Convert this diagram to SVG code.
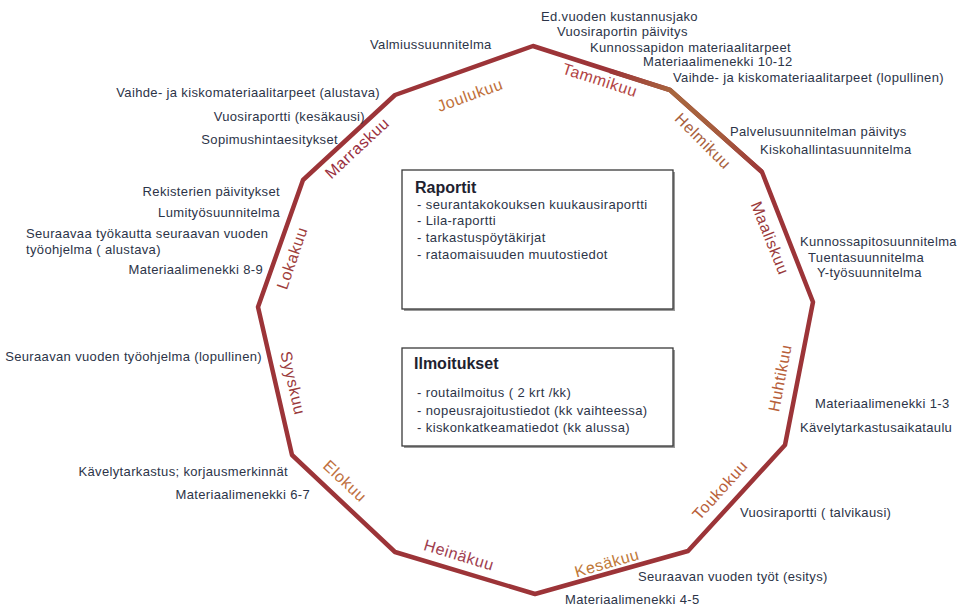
<svg xmlns="http://www.w3.org/2000/svg" width="960" height="610" viewBox="0 0 960 610">
<defs>
<linearGradient id="feb" gradientUnits="userSpaceOnUse" x1="610" y1="70" x2="765" y2="175">
<stop offset="0" stop-color="#9c3438"/>
<stop offset="0.35" stop-color="#a8673e"/>
<stop offset="0.7" stop-color="#a55a3c"/>
<stop offset="1" stop-color="#9c3438"/>
</linearGradient>
</defs>
<style>
.t{font-family:"Liberation Sans",Arial,sans-serif;font-size:13px;letter-spacing:0.35px;fill:#2c3448}
.e{text-anchor:end}
.m{font-family:"Liberation Sans",Arial,sans-serif;font-size:16px;letter-spacing:0.6px;text-anchor:middle;dominant-baseline:central}
.bx{fill:#fff;stroke:#3a3a3a;stroke-width:1.3}
.sh{fill:#9a9a9a}
.h{font-family:"Liberation Sans",Arial,sans-serif;font-size:16px;font-weight:bold;fill:#1e2230}
.b{font-family:"Liberation Sans",Arial,sans-serif;font-size:13px;letter-spacing:0.4px;fill:#2c3448}
</style>
<rect width="960" height="610" fill="#fff"/>
<g id="connectors">
<polygon points="533,46 670,90 762,172 813,302 785,445 688,551 535,594 395,552 292,455 258,307 303,180 395,95" fill="none" stroke="#9c3438" stroke-width="4.5" stroke-linejoin="round"/>
<polyline points="610,71 670,90 762,172" fill="none" stroke="url(#feb)" stroke-width="4.5" stroke-linejoin="round"/>
</g>
<g id="months">
<text class="m" x="470" y="95" fill="#c0703a" transform="rotate(-20 470 95)">Joulukuu</text>
<text class="m" x="600" y="80" fill="#b24444" transform="rotate(18 600 80)">Tammikuu</text>
<text class="m" x="703" y="141" fill="#a8603c" transform="rotate(45 703 141)">Helmikuu</text>
<text class="m" x="770" y="238" fill="#9a3a3c" transform="rotate(68 770 238)">Maaliskuu</text>
<text class="m" x="780" y="378" fill="#b8603a" transform="rotate(-79 780 378)">Huhtikuu</text>
<text class="m" x="720" y="490" fill="#b8603a" transform="rotate(-48 720 490)">Toukokuu</text>
<text class="m" x="607" y="563" fill="#c07838" transform="rotate(-16 607 563)">Kesäkuu</text>
<text class="m" x="459" y="555" fill="#a04050" transform="rotate(17 459 555)">Heinäkuu</text>
<text class="m" x="345" y="481" fill="#c07040" transform="rotate(43 345 481)">Elokuu</text>
<text class="m" x="293" y="383" fill="#9a3a3c" transform="rotate(77 293 383)">Syyskuu</text>
<text class="m" x="292" y="258" fill="#a0403c" transform="rotate(-71 292 258)">Lokakuu</text>
<text class="m" x="357" y="148" fill="#9a3040" transform="rotate(-43 357 148)">Marraskuu</text>
</g>
<g id="tammikuu-tasks">
<text class="t" x="541" y="21">Ed.vuoden kustannusjako</text>
<text class="t" x="557" y="36">Vuosiraportin päivitys</text>
<text class="t" x="590" y="52">Kunnossapidon materiaalitarpeet</text>
<text class="t" x="643" y="66">Materiaalimenekki 10-12</text>
<text class="t" x="673" y="82">Vaihde- ja kiskomateriaalitarpeet (lopullinen)</text>
</g>
<g id="joulukuu-tasks">
<text class="t" x="370" y="49">Valmiussuunnitelma</text>
</g>
<g id="marraskuu-tasks">
<text class="t e" x="380" y="97">Vaihde- ja kiskomateriaalitarpeet (alustava)</text>
<text class="t e" x="365" y="121">Vuosiraportti (kesäkausi)</text>
<text class="t e" x="338" y="144">Sopimushintaesitykset</text>
</g>
<g id="lokakuu-tasks">
<text class="t e" x="280" y="196">Rekisterien päivitykset</text>
<text class="t e" x="280" y="217">Lumityösuunnitelma</text>
<text class="t" x="26" y="238">Seuraavaa työkautta seuraavan vuoden</text>
<text class="t" x="26" y="254">työohjelma ( alustava)</text>
<text class="t e" x="263" y="274">Materiaalimenekki 8-9</text>
</g>
<g id="syyskuu-tasks">
<text class="t e" x="262" y="361">Seuraavan vuoden työohjelma (lopullinen)</text>
</g>
<g id="elokuu-tasks">
<text class="t e" x="288" y="476">Kävelytarkastus; korjausmerkinnät</text>
<text class="t e" x="310" y="499">Materiaalimenekki 6-7</text>
</g>
<g id="helmikuu-tasks">
<text class="t" x="730" y="136">Palvelusuunnitelman päivitys</text>
<text class="t" x="760" y="154">Kiskohallintasuunnitelma</text>
</g>
<g id="maaliskuu-tasks">
<text class="t" x="800" y="246">Kunnossapitosuunnitelma</text>
<text class="t" x="808" y="262">Tuentasuunnitelma</text>
<text class="t" x="817" y="277">Y-työsuunnitelma</text>
</g>
<g id="huhtikuu-tasks">
<text class="t" x="815" y="408">Materiaalimenekki 1-3</text>
<text class="t" x="800" y="432">Kävelytarkastusaikataulu</text>
</g>
<g id="toukokuu-tasks">
<text class="t" x="740" y="517">Vuosiraportti ( talvikausi)</text>
</g>
<g id="kesakuu-tasks">
<text class="t" x="638" y="581">Seuraavan vuoden työt (esitys)</text>
<text class="t" x="565" y="604">Materiaalimenekki 4-5</text>
</g>
<g id="raportit">
<rect class="sh" x="404" y="172" width="271" height="139"/>
<rect class="bx" x="402" y="170" width="271" height="139"/>
<text class="h" x="415" y="193">Raportit</text>
<text class="b" x="417" y="209">- seurantakokouksen kuukausiraportti</text>
<text class="b" x="417" y="225">- Lila-raportti</text>
<text class="b" x="417" y="242">- tarkastuspöytäkirjat</text>
<text class="b" x="417" y="259">- rataomaisuuden muutostiedot</text>
</g>
<g id="ilmoitukset">
<rect class="sh" x="404" y="350" width="271" height="98"/>
<rect class="bx" x="402" y="348" width="271" height="98"/>
<text class="h" x="414" y="369">Ilmoitukset</text>
<text class="b" x="417" y="397">- routailmoitus ( 2 krt /kk)</text>
<text class="b" x="417" y="415">- nopeusrajoitustiedot (kk vaihteessa)</text>
<text class="b" x="417" y="432">- kiskonkatkeamatiedot (kk alussa)</text>
</g>
</svg>
